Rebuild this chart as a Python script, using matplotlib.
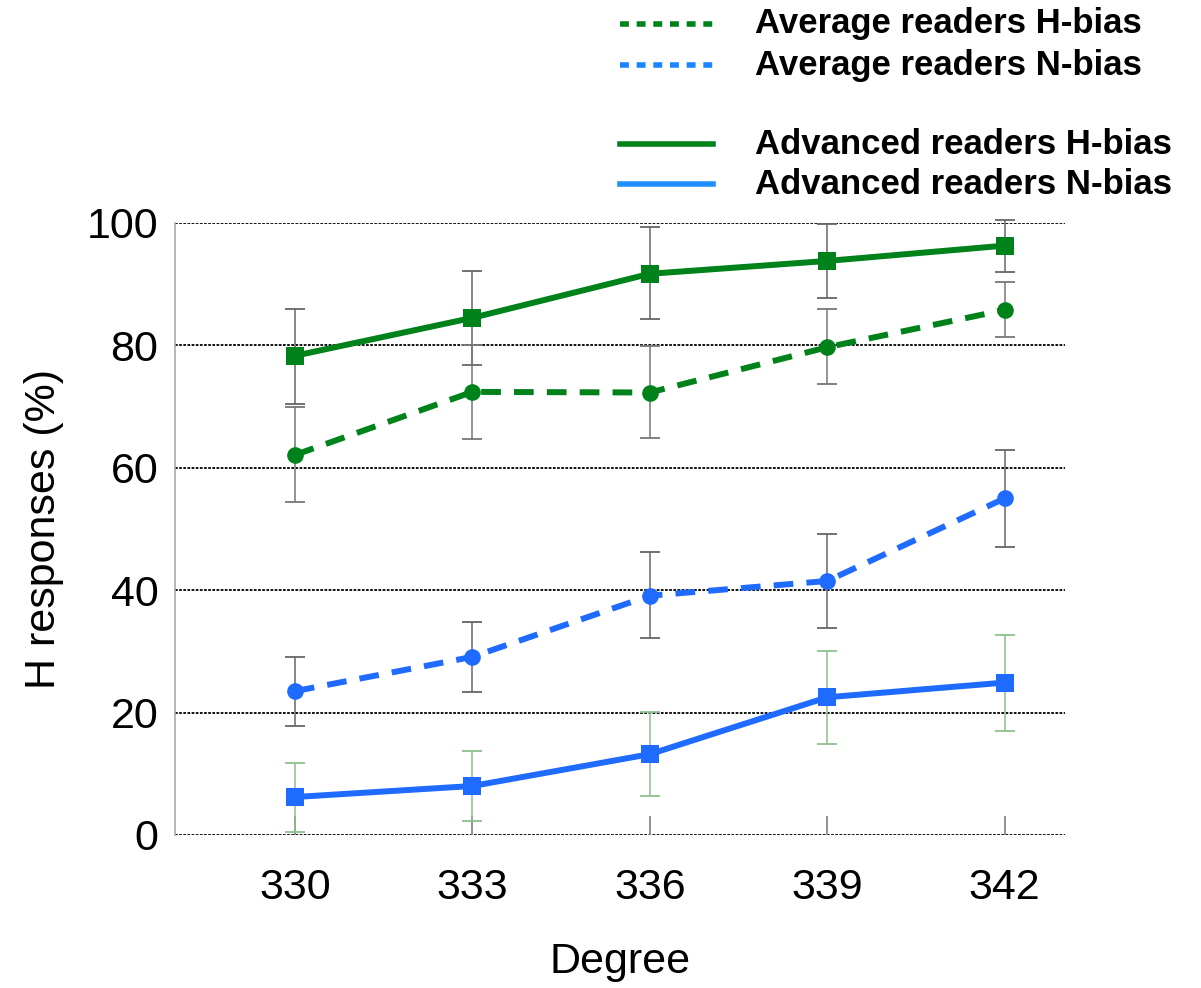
import matplotlib.pyplot as plt
from matplotlib.lines import Line2D

plt.rcParams['font.family'] = ['Liberation Sans', 'DejaVu Sans']

degrees = ['330', '333', '336', '339', '342']

adv_h = [78.3, 84.5, 91.7, 93.8, 96.3]
adv_h_lo = [70.4, 76.8, 84.3, 87.7, 92.0]
adv_h_hi = [85.9, 92.2, 99.3, 99.8, 100.5]

avg_h = [62.1, 72.4, 72.3, 79.7, 85.8]
avg_h_lo = [54.4, 64.7, 64.9, 73.7, 81.4]
avg_h_hi = [70.0, 80.1, 79.9, 85.9, 90.4]

avg_n = [23.5, 29.1, 39.1, 41.5, 55.0]
avg_n_lo = [17.8, 23.4, 32.2, 33.8, 47.1]
avg_n_hi = [29.1, 34.8, 46.2, 49.2, 62.9]

adv_n = [6.2, 8.0, 13.2, 22.5, 24.9]
adv_n_lo = [0.5, 2.2, 6.4, 14.9, 17.0]
adv_n_hi = [11.8, 13.7, 20.1, 30.1, 32.7]

green = '#00821a'
blue = '#1f6bff'

fig = plt.figure(figsize=(12.01, 9.88), dpi=100)
ax = fig.add_axes([0.1457, 0.1549, 0.7411, 0.6194])

x = list(range(len(degrees)))

# Gridlines (dotted, black)
for yv in [0, 20, 40, 60, 80, 100]:
    ax.axhline(yv, color='black', linestyle=(0, (1.5, 0.8)), linewidth=1.3, zorder=1)


def draw(vals, lo, hi, color, ls, marker, ms, ecolor, capcolor):
    err = [[v - l for v, l in zip(vals, lo)], [h - v for v, h in zip(vals, hi)]]
    eb = ax.errorbar(x, vals, yerr=err, fmt='none', ecolor=ecolor, elinewidth=1.1,
                     capsize=7.5, capthick=1.3, zorder=2, clip_on=False)
    for cl in eb[1]:
        cl.set_color(capcolor)
    ax.plot(x, vals, color=color, linestyle=ls, linewidth=4.3, marker=marker,
            markersize=ms, markeredgewidth=0, zorder=3, clip_on=False)


draw(adv_h, adv_h_lo, adv_h_hi, green, '-', 's', 13, '#666666', 'black')
draw(avg_h, avg_h_lo, avg_h_hi, green, (0, (3.3, 2.2)), 'o', 12, '#777777', 'black')
draw(avg_n, avg_n_lo, avg_n_hi, blue, (0, (3.3, 2.2)), 'o', 12, '#666666', 'black')
draw(adv_n, adv_n_lo, adv_n_hi, blue, '-', 's', 13, '#8cc08c', '#1e5e2a')

ax.set_xlim(-0.676, 4.34)
ax.set_ylim(0, 100)
ax.set_xticks(x)
ax.set_xticklabels(degrees)
ax.set_yticks([0, 20, 40, 60, 80, 100])

ax.spines[['top', 'right', 'bottom']].set_visible(False)
ax.spines['left'].set_color('#aaaaaa')
ax.spines['left'].set_linewidth(1.2)

ax.tick_params(axis='x', direction='in', length=14, width=1.3, color='#888888',
               labelsize=31, pad=24)
ax.tick_params(axis='y', length=0, labelsize=31, pad=12)

ax.set_xlabel('Degree', fontsize=31, labelpad=24)
ax.set_ylabel('H responses (%)', fontsize=31, labelpad=16)

# Legend drawn by hand in figure coordinates
W, H = 1201, 988
entries = [
    ('Average readers H-bias', green, (0, (1.6, 1.4)), 24),
    ('Average readers N-bias', '#1a85ff', (0, (1.6, 1.4)), 65),
    ('Advanced readers H-bias', green, '-', 144),
    ('Advanced readers N-bias', '#1e8fff', '-', 184),
]
for label, col, ls, ypx in entries:
    yf = 1 - ypx / H
    fig.add_artist(Line2D([620 / W, 713 / W], [yf, yf], color=col, linestyle=ls,
                          linewidth=4, transform=fig.transFigure))
    fig.text(755 / W, yf, label, fontsize=25, fontweight='bold', va='center', ha='left')

fig.savefig('out.png', dpi=100, facecolor='white')
